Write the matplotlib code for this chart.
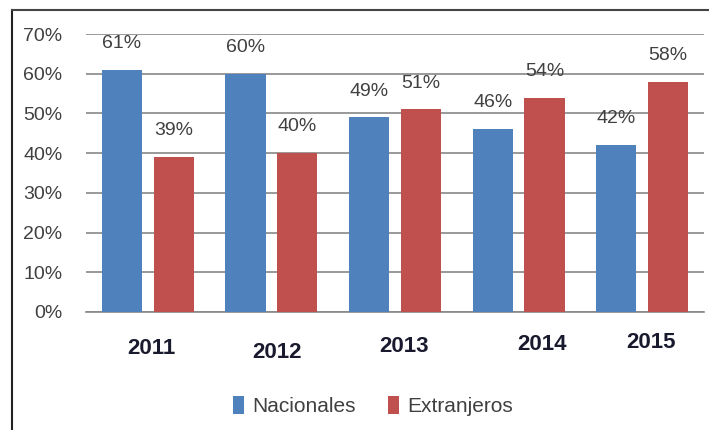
import matplotlib.pyplot as plt
from matplotlib.lines import Line2D
from matplotlib.ticker import PercentFormatter
from matplotlib import transforms
import numpy as np

years = ["2011", "2012", "2013", "2014", "2015"]
nacionales = [61, 60, 49, 46, 42]
extranjeros = [39, 40, 51, 54, 58]
# year labels in the original sit a bit off-center and at uneven heights
year_dx = [0.03, 0.045, 0.07, 0.19, 0.07]
year_y = [349, 352, 347, 344, 342]

plt.rcParams["font.family"] = ["Liberation Sans", "DejaVu Sans"]

W, H = 709, 430
fig = plt.figure(figsize=(W / 100, H / 100), dpi=100)
ax = fig.add_axes([86 / W, 1 - 312 / H, (704 - 86) / W, (312 - 34) / H])

x = np.arange(len(years))
bw = 0.325
off = 0.21
b1 = ax.bar(x - off, nacionales, bw, color="#4F81BD", label="Nacionales", zorder=3)
b2 = ax.bar(x + off, extranjeros, bw, color="#C0504D", label="Extranjeros", zorder=3)

for bars, vals in ((b1, nacionales), (b2, extranjeros)):
    for rect, v in zip(bars, vals):
        ax.annotate(f"{v}%", (rect.get_x() + rect.get_width() / 2, v),
                    xytext=(0, 19), textcoords="offset points",
                    ha="center", va="center", fontsize=14, color="#404040")

ax.set_xlim(-0.5, len(years) - 0.5)
ax.set_ylim(0, 70)
ax.set_yticks(range(0, 71, 10))
ax.yaxis.set_major_formatter(PercentFormatter(decimals=0))
ax.tick_params(axis="y", length=0, labelsize=14, labelcolor="#404040", pad=17)
ax.set_xticks([])
ax.grid(axis="y", color="#888888", linewidth=1.2, zorder=0)
for s in ["top", "right", "left"]:
    ax.spines[s].set_visible(False)
ax.spines["bottom"].set_color("#888888")
ax.spines["bottom"].set_linewidth(1.2)

blend = transforms.blended_transform_factory(ax.transData, fig.transFigure)
for i, (yr, dx, py) in enumerate(zip(years, year_dx, year_y)):
    ax.text(i + dx, 1 - py / H, yr, transform=blend,
            ha="center", va="center", fontsize=16, fontweight="bold", color="#1a1a2e")

fig.legend(handles=[b1, b2], loc="center", bbox_to_anchor=(373 / W, 1 - 406 / H),
           ncol=2, frameon=False, fontsize=15, handlelength=0.55, handleheight=1.0,
           columnspacing=1.5, handletextpad=0.4, labelcolor="#404040")

# frame on the left and top only, like the clipped original
fig.add_artist(Line2D([12 / W, 12 / W], [0, 1 - 10 / H], color="#222222", lw=1.5))
fig.add_artist(Line2D([12 / W, 1], [1 - 10 / H, 1 - 10 / H], color="#444444", lw=1.5))

fig.savefig("out.png", dpi=100)
